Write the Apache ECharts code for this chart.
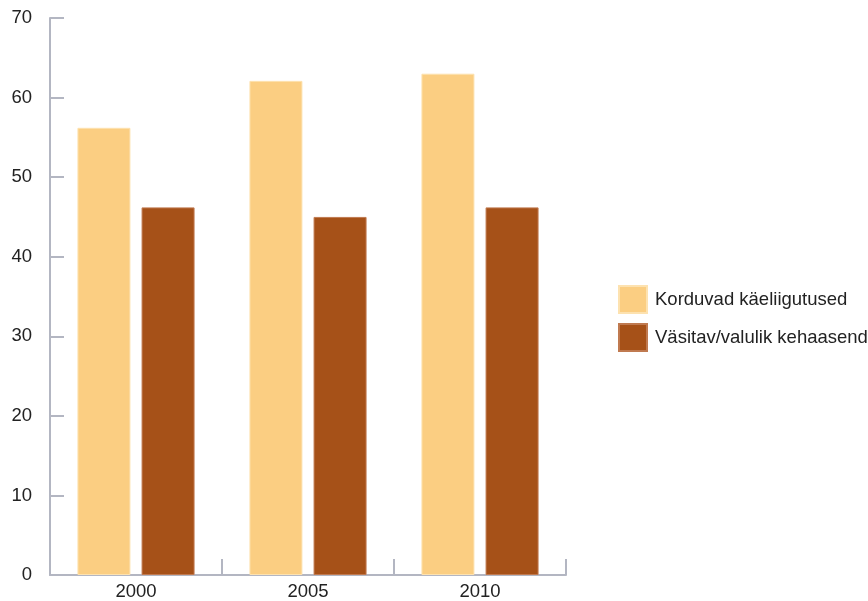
<!DOCTYPE html>
<html>
<head>
<meta charset="utf-8">
<style>
  html, body { margin: 0; padding: 0; background: #ffffff; }
  #chart { width: 868px; height: 601px; }
</style>
<script src="https://cdn.jsdelivr.net/npm/echarts@6/dist/echarts.min.js"></script>
</head>
<body>
<div id="chart"></div>
<script>
// Years on the category axis
const years = ['2000', '2005', '2010'];

// Series names and values (%)
const seriesNames = ['Korduvad käeliigutused', 'Väsitav/valulik kehaasend'];
const repetitiveMoves = [56.2, 62.1, 63.0];
const tiringPosture = [46.2, 45.0, 46.2];

// Value axis range
const yMin = 0;
const yMax = 70;
const yStep = 10;

const axisColor = '#b3b6c2';
const textColor = '#222222';
const font = '"Liberation Sans", Arial, sans-serif';
const fontSize = 18.5;

const chart = echarts.init(document.getElementById('chart'), null, { renderer: 'canvas' });

chart.setOption({
  animation: false,
  backgroundColor: '#ffffff',
  textStyle: { fontFamily: font },
  grid: { left: 50, top: 18, width: 516, bottom: 24.5, containLabel: false },
  legend: {
    orient: 'vertical',
    left: 618,
    top: 285,
    padding: 0,
    itemWidth: 28,
    itemHeight: 27,
    itemGap: 9,
    icon: 'rect',
    textStyle: { fontSize: fontSize, color: textColor, fontFamily: font, padding: [0, 0, 0, 3] },
    data: seriesNames
  },
  xAxis: {
    type: 'category',
    data: years,
    boundaryGap: true,
    axisLine: { show: true, lineStyle: { color: axisColor, width: 2 } },
    axisTick: { show: true, inside: true, length: 16, alignWithLabel: false, lineStyle: { color: axisColor, width: 2 } },
    axisLabel: { fontSize: fontSize, color: textColor, margin: 7, fontFamily: font },
    splitLine: { show: false }
  },
  yAxis: {
    type: 'value',
    min: yMin,
    max: yMax,
    interval: yStep,
    axisLine: { show: true, lineStyle: { color: axisColor, width: 2 } },
    axisTick: { show: true, inside: true, length: 14, lineStyle: { color: axisColor, width: 2 } },
    axisLabel: { fontSize: fontSize, color: textColor, margin: 18, fontFamily: font },
    splitLine: { show: false }
  },
  series: [
    {
      name: seriesNames[0],
      type: 'bar',
      data: repetitiveMoves,
      barWidth: 53,
      barGap: '21%',
      itemStyle: { color: '#fbce82', borderColor: '#fde2b0', borderWidth: 1 }
    },
    {
      name: seriesNames[1],
      type: 'bar',
      data: tiringPosture,
      barWidth: 53,
      barGap: '21%',
      itemStyle: { color: '#a65118', borderColor: '#c07a50', borderWidth: 1 }
    }
  ]
});
</script>
</body>
</html>
